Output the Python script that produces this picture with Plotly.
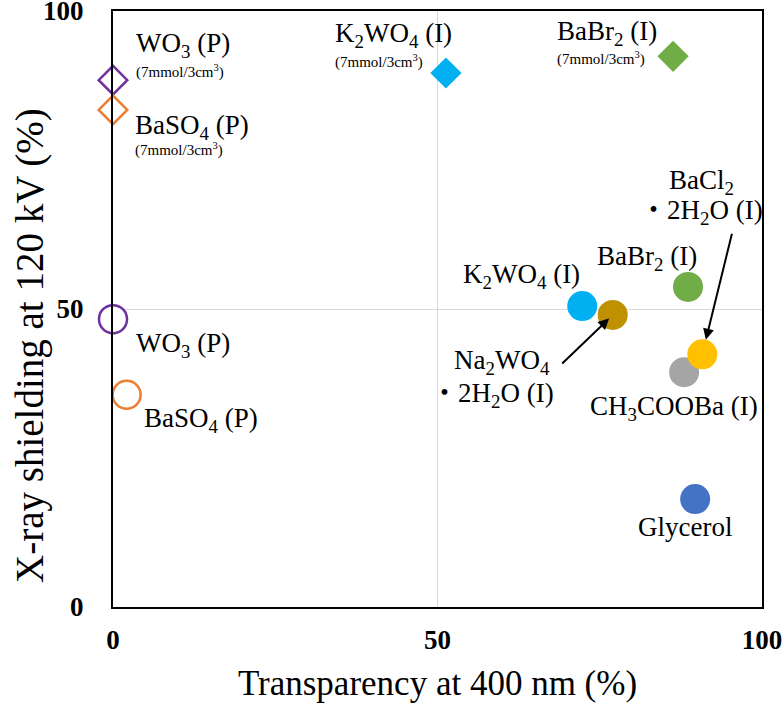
import plotly.graph_objects as go

# ---- data ----
diamond_names = ["WO<sub>3</sub> (P)", "BaSO<sub>4</sub> (P)", "K<sub>2</sub>WO<sub>4</sub> (I)", "BaBr<sub>2</sub> (I)"]
diamond_x = [0, 0, 51.3, 86.3]
diamond_y = [88.4, 83.4, 89.6, 92.4]
diamond_colors = ["#7030A0", "#ED7D31", "#00B0F0", "#70AD47"]
diamond_open = [True, True, False, False]
diamond_note = "(7mmol/3cm<sup>3</sup>)"

circle_names = [["WO<sub>3</sub> (P)"], ["BaSO<sub>4</sub> (P)"], ["K<sub>2</sub>WO<sub>4</sub> (I)"],
                ["Na<sub>2</sub>WO<sub>4</sub>", "・2H<sub>2</sub>O (I)"], ["BaBr<sub>2</sub> (I)"],
                ["CH<sub>3</sub>COOBa (I)"], ["BaCl<sub>2</sub>", "・2H<sub>2</sub>O (I)"], ["Glycerol"]]
circle_x = [0, 2.1, 72.3, 77.0, 88.6, 88.0, 90.8, 89.7]
circle_y = [48.3, 35.6, 50.5, 49.0, 53.7, 39.4, 42.4, 18.1]
circle_colors = ["#7030A0", "#ED7D31", "#00B0F0", "#BF9000", "#70AD47", "#A5A5A5", "#FFC000", "#4472C4"]
circle_open = [True, True, False, False, False, False, False, False]

x_ticks = [0, 50, 100]
y_ticks = [0, 50, 100]

FONT = "Liberation Serif, Times New Roman, Noto Sans CJK JP, serif"

fig = go.Figure()

fig.add_trace(go.Scatter(
    x=diamond_x, y=diamond_y, mode="markers", cliponaxis=False, showlegend=False, hoverinfo="skip",
    marker=dict(symbol="diamond", opacity=1, size=[22 if o else 24 for o in diamond_open],
                color=["white" if o else c for o, c in zip(diamond_open, diamond_colors)],
                line=dict(color=diamond_colors, width=[2.5 if o else 0 for o in diamond_open]))
))
fig.add_trace(go.Scatter(
    x=circle_x, y=circle_y, mode="markers", cliponaxis=False, showlegend=False, hoverinfo="skip",
    marker=dict(symbol="circle", opacity=1, size=[28 if o else 30 for o in circle_open],
                color=["white" if o else c for o, c in zip(circle_open, circle_colors)],
                line=dict(color=circle_colors, width=[2.5 if o else 0 for o in circle_open]))
))

BIG = 27
SMALL = 15

def label(x, y, text, dx, dy, size=BIG, align="left"):
    fig.add_annotation(x=x, y=y, xref="x", yref="y", text=text, showarrow=False,
                       xanchor="left", yanchor="middle", xshift=dx, yshift=dy, align=align,
                       font=dict(family=FONT, size=size, color="black"))

# diamond labels (name + note)
d_main_shift = [(21, 35), (20, -17), (-113, 38), (-118, 23)]
d_note_shift = [(21, 9), (20, -40), (-113, 11), (-118, -2)]
for i in range(4):
    label(diamond_x[i], diamond_y[i], diamond_names[i], *d_main_shift[i])
    label(diamond_x[i], diamond_y[i], diamond_note, *d_note_shift[i], size=SMALL)

# circle labels (one shift per text line)
c_shift = [[(21, -26)], [(15, -25)], [(-121, 30)], [(-161, -47), (-184, -80)], [(-93, 29)],
           [(-96, -36)], [(-35, 172), (-64, 142)], [(-59, -28)]]
for i in range(len(circle_names)):
    for line_text, (dx, dy) in zip(circle_names[i], c_shift[i]):
        label(circle_x[i], circle_y[i], line_text, dx, dy)

# arrows
fig.add_annotation(x=circle_x[3], y=circle_y[3], xref="x", yref="y", text="", showarrow=True,
                   ax=-52, ay=50, arrowhead=2, arrowsize=1.1, arrowwidth=2, arrowcolor="black", standoff=5)
fig.add_annotation(x=circle_x[6], y=circle_y[6], xref="x", yref="y", text="", showarrow=True,
                   ax=30, ay=-122, arrowhead=2, arrowsize=1.1, arrowwidth=2, arrowcolor="black", standoff=15)

# y-axis title (placed lower than centre, as in the original)
fig.add_annotation(x=0, y=0.438, xref="paper", yref="paper", xshift=-83, text="X-ray shielding at 120 kV (%)",
                   textangle=-90, showarrow=False, xanchor="center", yanchor="middle",
                   font=dict(family=FONT, size=39, color="black"))

fig.update_layout(
    width=784, height=705,
    margin=dict(l=113, r=22, t=11, b=98),
    plot_bgcolor="white", paper_bgcolor="white",
    font=dict(family=FONT, color="black"),
    hovermode=False,
    xaxis=dict(range=[0, 100], tickvals=x_ticks, ticktext=[str(v) for v in x_ticks],
               showline=True, mirror=True, linecolor="black", linewidth=2,
               showgrid=True, gridcolor="#d9d9d9", gridwidth=1, zeroline=False,
               ticks="", ticklabelstandoff=8, automargin=False, ticklabeloverflow="allow",
               tickfont=dict(family=FONT, size=27, weight="bold", color="black"),
               title=dict(text="Transparency at 400 nm (%)", font=dict(family=FONT, size=35, color="black"), standoff=16)),
    yaxis=dict(range=[0, 100], tickvals=y_ticks, ticktext=[str(v) for v in y_ticks],
               showline=True, mirror=True, linecolor="black", linewidth=2,
               showgrid=True, gridcolor="#d9d9d9", gridwidth=1, zeroline=False,
               ticks="", ticklabelstandoff=22, automargin=False, ticklabeloverflow="allow",
               tickfont=dict(family=FONT, size=27, weight="bold", color="black")),
)

fig.write_html("out.html", config={"displayModeBar": False},
               post_script="document.body.style.margin='0';")
